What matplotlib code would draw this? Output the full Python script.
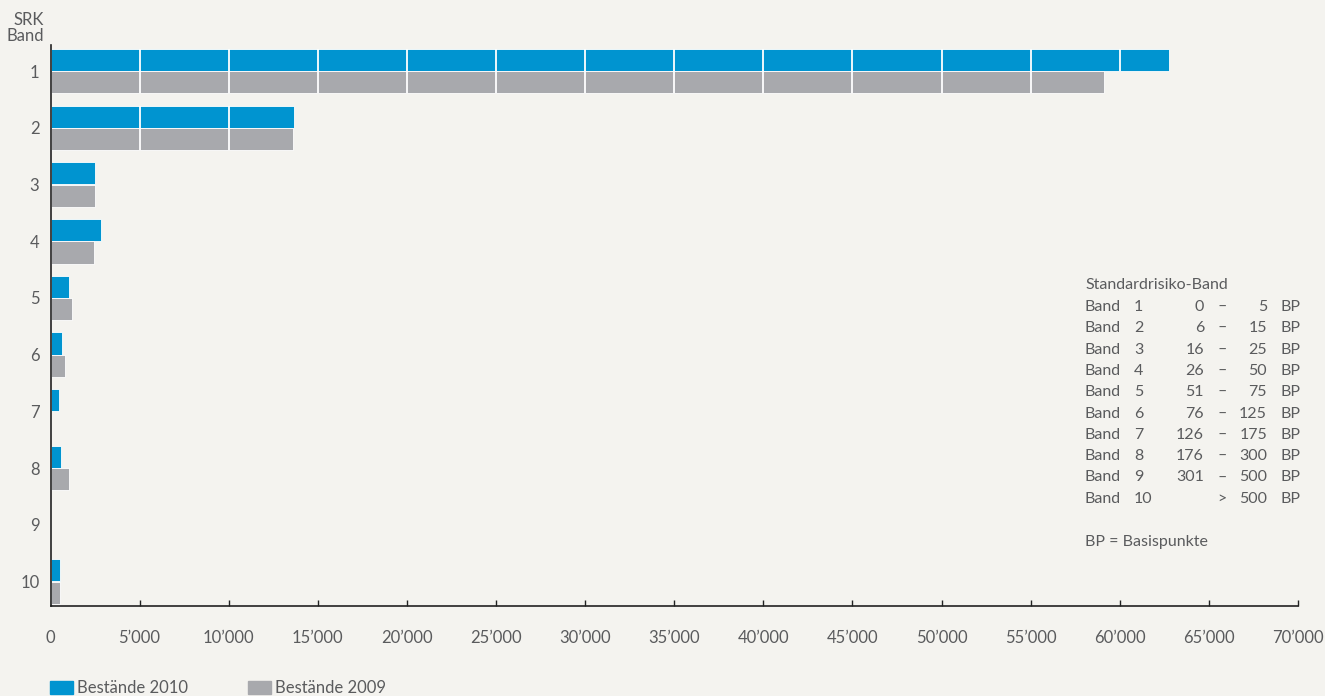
import matplotlib.pyplot as plt
import matplotlib.patches as mpatches
from matplotlib.ticker import FuncFormatter
import numpy as np

plt.rcParams['font.family'] = ['Lato', 'DejaVu Sans']

bands = ['1', '2', '3', '4', '5', '6', '7', '8', '9', '10']
bestand_2010 = [62770, 13670, 2500, 2830, 1040, 650, 480, 590, 0, 530]
bestand_2009 = [59120, 13610, 2500, 2440, 1210, 810, 0, 1040, 0, 530]
x_ticks = [0, 5000, 10000, 15000, 20000, 25000, 30000, 35000,
           40000, 45000, 50000, 55000, 60000, 65000, 70000]

# legend table on the right
tab_band = ['1', '2', '3', '4', '5', '6', '7', '8', '9', '10']
tab_lo = ['0', '6', '16', '26', '51', '76', '126', '176', '301', '']
tab_hi = ['5', '15', '25', '50', '75', '125', '175', '300', '500', '500']

bg = '#f4f3ef'
blue = '#0094d0'
grey = '#a8a9ad'
txt = '#5a5b5d'

fig = plt.figure(figsize=(13.25, 6.96), dpi=100, facecolor=bg)
ax = fig.add_axes([50.5/1325, 1-606/696, (1298-50.5)/1325, (606-45)/696])
ax.set_facecolor(bg)

y = np.arange(len(bands))
h = 0.39
off = 0.197
ax.barh(y - off, bestand_2010, height=h, color=blue, edgecolor='white', lw=0.6, zorder=2)
ax.barh(y + off, bestand_2009, height=h, color=grey, edgecolor='white', lw=0.6, zorder=2)

# white separators at every 5'000, only inside the bars
for vals, yc in [(bestand_2010, y - off), (bestand_2009, y + off)]:
    for v, c in zip(vals, yc):
        xs = [t for t in x_ticks[1:] if t < v]
        if xs:
            ax.vlines(xs, c - h / 2, c + h / 2, color='white', lw=1.3, zorder=3)

ax.set_xlim(0, 70000)
ax.set_ylim(9.43, -0.46)
ax.set_yticks(y)
ax.set_yticklabels(bands)
ax.set_xticks(x_ticks)
ax.xaxis.set_major_formatter(FuncFormatter(lambda v, p: f'{int(v):,}'.replace(',', '\u2019')))

for s in ['top', 'right']:
    ax.spines[s].set_visible(False)
for s in ['left', 'bottom']:
    ax.spines[s].set_color('#222222')
    ax.spines[s].set_linewidth(1.2)
ax.tick_params(axis='x', direction='in', length=4, width=1, color='#222222',
               labelsize=12, labelcolor=txt, pad=17)
ax.tick_params(axis='y', length=0, labelsize=12, labelcolor=txt, pad=8)

fig.text(44/1325, 1-28/696, 'SRK\nBand', ha='right', va='center', fontsize=12,
         color=txt, linespacing=0.95)

# legend
fig.patches.append(mpatches.Rectangle((50/1325, 1-694/696), 23/1325, 13/696,
                                      transform=fig.transFigure, color=blue))
fig.text(77/1325, 1-688/696, 'Bestände 2010', va='center', fontsize=12, color=txt)
fig.patches.append(mpatches.Rectangle((248/1325, 1-694/696), 23/1325, 13/696,
                                      transform=fig.transFigure, color=grey))
fig.text(275/1325, 1-688/696, 'Bestände 2009', va='center', fontsize=12, color=txt)

# standard risk band table
fs = 11.5
fig.text(1085/1325, 1-285/696, 'Standardrisiko-Band', va='center', fontsize=fs, color=txt)
for i in range(len(tab_band)):
    yy = 1 - (307 + i * 21.3) / 696
    fig.text(1085/1325, yy, 'Band', va='center', fontsize=fs, color=txt)
    fig.text(1134/1325, yy, tab_band[i], va='center', fontsize=fs, color=txt)
    fig.text(1204/1325, yy, tab_lo[i], va='center', ha='right', fontsize=fs, color=txt)
    sep = '>' if tab_lo[i] == '' else '\u2013'
    fig.text(1222/1325, yy, sep, va='center', ha='center', fontsize=fs, color=txt)
    fig.text(1267/1325, yy, tab_hi[i], va='center', ha='right', fontsize=fs, color=txt)
    fig.text(1280/1325, yy, 'BP', va='center', fontsize=fs, color=txt)
fig.text(1085/1325, 1-542/696, 'BP = Basispunkte', va='center', fontsize=fs, color=txt)

fig.savefig('out.png', dpi=100, facecolor=bg)
